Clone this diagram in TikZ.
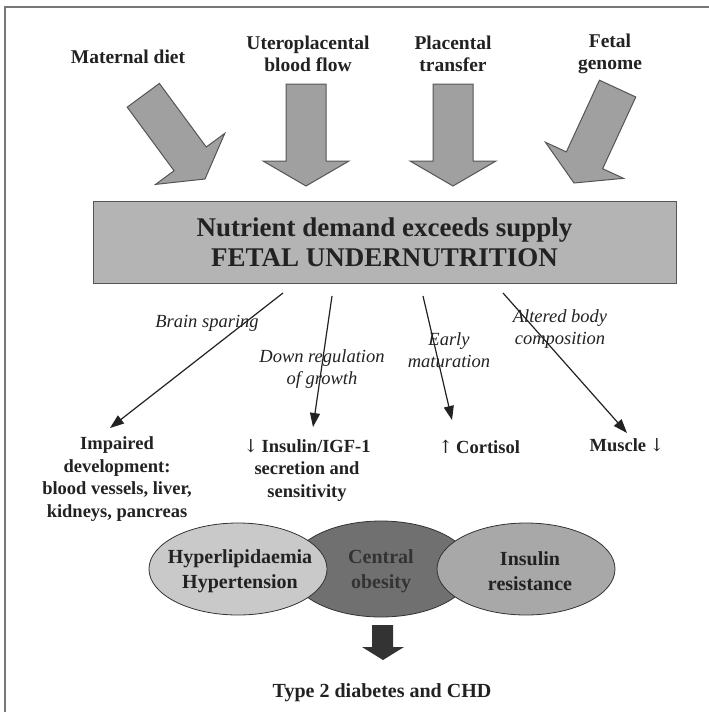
\documentclass[tikz,border=0pt]{standalone}
\usepackage{fontspec}
\setmainfont{Liberation Serif}
\newfontfamily\arrowglyph{DejaVu Serif}
\usetikzlibrary{arrows.meta,shapes.geometric}
\definecolor{ink}{HTML}{222222}
\definecolor{arrowfill}{HTML}{A0A0A0}
\definecolor{arrowline}{HTML}{555555}
\definecolor{boxfill}{HTML}{B4B4B4}
\definecolor{ellA}{HTML}{C9C9C9}
\definecolor{ellB}{HTML}{707070}
\definecolor{ellC}{HTML}{A8A8A8}
\definecolor{framecol}{HTML}{777777}
\definecolor{darkarrow}{HTML}{333333}
\newcommand{\dnarrow}{{\arrowglyph\mdseries\fontsize{18}{20}\selectfont ↓}}
\newcommand{\uparrowglyph}{{\arrowglyph\mdseries\fontsize{18}{20}\selectfont ↑}}
\begin{document}
\begin{tikzpicture}[x=1pt,y=-1pt,
  header/.style={font=\bfseries\fontsize{19.5}{22}\selectfont, text=ink, align=center, inner sep=0pt},
  result/.style={font=\bfseries\fontsize{18.5}{22.5}\selectfont, text=ink, align=center, inner sep=0pt},
  pathway/.style={font=\itshape\fontsize{18.5}{21.5}\selectfont, text=ink, align=center, inner sep=0pt},
  bubbletext/.style={font=\bfseries\fontsize{20}{25}\selectfont, text=ink, align=center},
  blockarrow/.style={fill=arrowfill, draw=arrowline, line width=1pt, line join=miter},
  thinarrow/.style={draw=ink, line width=1.2pt, -{Triangle[length=14pt,width=10pt]}},
  bubble/.style={ellipse, draw=darkarrow, line width=0.8pt, inner sep=0pt},
  mainbox/.style={draw=arrowline, fill=boxfill, line width=0.8pt, inner sep=0pt,
    font=\bfseries\fontsize{27}{30}\selectfont, text=ink, align=center}
]
\useasboundingbox[fill=white] (0,0) rectangle (709,712);
% frame
\draw[framecol, line width=1.8pt] (709,7) -- (5,7) -- (5,712);

% headers
\node[header] (maternal) at (128,57) {Maternal diet};
\node[header] (utero) at (308,54) {Uteroplacental\\blood flow};
\node[header] (placental) at (453,54) {Placental\\transfer};
\node[header] (fetal) at (610,54) {Fetal\\genome};

% block arrows (tip at origin, pointing along +x)
\path[blockarrow, shift={(205,179)}, rotate=-53.6]
  (0,0) -- (-25,43) -- (-25,20) -- (-104,20) -- (-104,-20) -- (-25,-20) -- (-25,-43) -- cycle;
\path[blockarrow, shift={(306,186)}, rotate=-90]
  (0,0) -- (-25,43) -- (-25,20) -- (-102,20) -- (-102,-20) -- (-25,-20) -- (-25,-43) -- cycle;
\path[blockarrow, shift={(453,186)}, rotate=-90]
  (0,0) -- (-25,43) -- (-25,20) -- (-102,20) -- (-102,-20) -- (-25,-20) -- (-25,-43) -- cycle;
\path[blockarrow, shift={(574,183)}, rotate=-114.8]
  (0,0) -- (-25,43) -- (-25,20) -- (-104,20) -- (-104,-20) -- (-25,-20) -- (-25,-43) -- cycle;

% main box
\node[mainbox, minimum width=583pt, minimum height=82pt] (box) at (384.5,242)
  {Nutrient demand exceeds supply\\FETAL UNDERNUTRITION};

% pathway labels
\node[pathway] (brain) at (207,323) {Brain sparing};
\node[pathway] (down) at (322,369) {Down regulation\\of growth};
\node[pathway] (early) at (449,350) {Early\\maturation};
\node[pathway] (altered) at (560,329) {Altered body\\composition};

% outcomes
\node[result] (impaired) at (117,479) {Impaired\\development:\\blood vessels, liver,\\kidneys, pancreas};
\node[result] (insulin) at (307,470) {\dnarrow\,Insulin/IGF-1\\secretion and\\sensitivity};
\node[result] (cortisol) at (479,447) {\uparrowglyph\,Cortisol};
\node[result] (muscle) at (627,445) {Muscle\,\dnarrow};

% connector end points
\coordinate (s1) at (283,293);
\coordinate (s2) at (332,296);
\coordinate (s3) at (423,296);
\coordinate (s4) at (503,293);
\coordinate (e1) at (110,428);
\coordinate (e2) at (313,427);
\coordinate (e3) at (452,420);
\coordinate (e4) at (627,433);
\draw[thinarrow] (s1) -- (e1);
\draw[thinarrow] (s2) -- (e2);
\draw[thinarrow] (s3) -- (e3);
\draw[thinarrow] (s4) -- (e4);

% ellipses
\node[bubble, fill=ellB, minimum width=182pt, minimum height=96pt] (central) at (381,569) {};
\node[bubble, fill=ellA, minimum width=178pt, minimum height=92pt] (hyper) at (238,569) {};
\node[bubble, fill=ellC, minimum width=178pt, minimum height=92pt] (insres) at (526,569) {};
\node[bubbletext] (hypertext) at (240,571) {Hyperlipidaemia\\Hypertension};
\node[bubbletext, text=darkarrow] (centraltext) at (381,571) {Central\\obesity};
\node[bubbletext] (insrestext) at (530,571) {Insulin\\resistance};

% bottom block arrow
\path[fill=darkarrow] (372,625) -- (393,625) -- (393,647) -- (404,647) -- (383,660)
  -- (362,647) -- (372,647) -- cycle;

\node[font=\bfseries\fontsize{20}{24}\selectfont, text=ink, inner sep=0pt] (outcome) at (382,693)
  {Type 2 diabetes and CHD};
\end{tikzpicture}
\end{document}
